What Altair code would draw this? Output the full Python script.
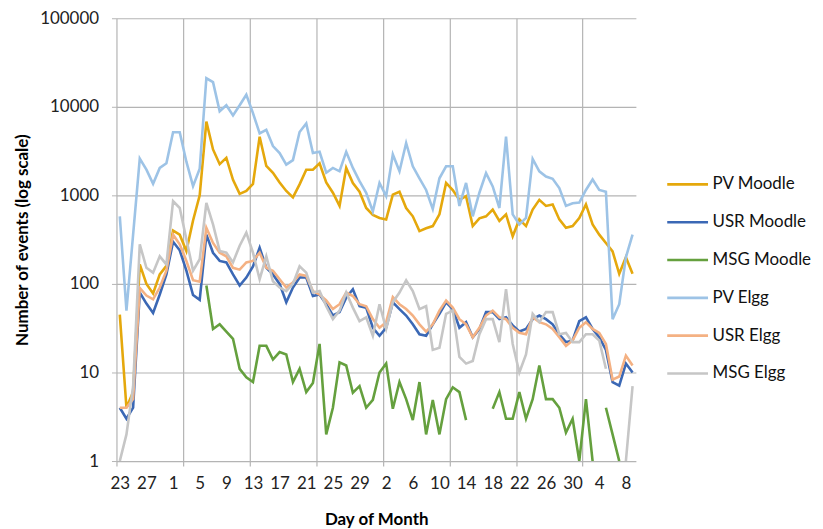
import altair as alt
import pandas as pd

# Category labels (day of month), one per data point
days = (list(range(23, 31)) + list(range(1, 32)) + list(range(1, 31)) + list(range(1, 10)))

series_names = ["PV Moodle", "USR Moodle", "MSG Moodle", "PV Elgg", "USR Elgg", "MSG Elgg"]
series_colors = ["#E5A80C", "#3B68B5", "#65A03E", "#9DC3E6", "#F4B183", "#C6C6C6"]

pv_moodle = [45, 4, 6, 166, 100, 78, 128, 160, 400, 360, 235, 520, 1000, 6800, 3300, 2250,
             2650, 1500, 1040, 1120, 1350, 4600, 2150, 1800, 1400, 1120, 950, 1330, 1950, 1950,
             2300, 1400, 1070, 760, 2040, 1380, 1100, 720, 600, 555, 535, 1020, 1100, 720, 580,
             395, 425, 450, 610, 1380, 1150, 890, 980, 450, 550, 580, 690, 515, 610, 345, 535,
             450, 690, 890, 760, 790, 535, 430, 450, 555, 790, 470, 360, 290, 233, 130, 200, 130]

usr_moodle = [4, 3, 4, 80, 60, 47, 76, 128, 300, 240, 141, 75, 66, 360, 225, 182, 175, 128,
              96, 118, 158, 256, 152, 128, 100, 62, 91, 118, 118, 73, 76, 59, 44, 48, 70, 87,
              56, 54, 32, 26, 32, 62, 52, 44, 35, 27, 26, 35, 46, 62, 52, 32, 37, 25, 31, 48,
              48, 40, 42, 34, 29, 31, 40, 44, 40, 35, 27, 22, 23, 38, 42, 31, 25, 18, 7.8, 7.1,
              12.6, 10]

msg_moodle = [None] * 13 + [96, 31, 35, 29, 24, 11, 8.8, 7.8, 20, 20, 14, 17, 16, 7.8, 11, 6,
              7.6, 21, 2, 4, 13, 12, 5.9, 7, 4, 4.9, 10, 12.6, 3.9, 7.8, 5, 2.9, 7.8, 2, 4.9,
              2, 5, 6.8, 6, 2.9, None, None, None, 3.9, 6, 3, 3, 6, 3, 5, 12, 5, 5, 4, 2.1, 3,
              1, 5, 1, None, 4, 2, 1, None, None]

pv_elgg = [580, 50, 360, 2600, 1950, 1350, 2040, 2300, 5150, 5150, 2400, 1270, 2000, 21000,
           19000, 8900, 10400, 8000, 10400, 13700, 8500, 5000, 5500, 3600, 3000, 2220, 2500,
           5200, 6500, 3000, 3100, 1800, 2040, 1870, 3100, 2040, 1450, 1070, 660, 1380, 980,
           2900, 1870, 3900, 2130, 1560, 1150, 700, 1560, 2130, 2130, 760, 1380, 580, 1070,
           1780, 1260, 720, 4600, 610, 470, 555, 2580, 1870, 1630, 1540, 1210, 760, 815, 830,
           1150, 1510, 1150, 1100, 40, 59, 200, 360]

usr_elgg = [4, 4, 5, 90, 74, 67, 91, 141, 360, 280, 182, 110, 106, 430, 290, 225, 205, 152,
            145, 175, 182, 225, 152, 141, 113, 91, 104, 128, 123, 83, 76, 65, 52, 59, 80, 73,
            59, 56, 40, 32, 37, 71, 59, 52, 44, 35, 29, 35, 50, 65, 54, 40, 35, 25, 32, 44, 50,
            42, 40, 32, 28, 27, 42, 37, 35, 31, 25, 20, 23, 32, 37, 31, 28, 21, 8.3, 9, 15.5, 12]

msg_elgg = [1, 2, 7, 280, 152, 134, 205, 166, 860, 720, 320, 141, 190, 820, 470, 236, 225,
            175, 270, 380, 225, 113, 205, 107, 91, 83, 100, 158, 134, 80, 83, 56, 40, 50, 80,
            54, 38, 42, 26, 59, 31, 62, 80, 110, 83, 52, 56, 18, 19, 46, 50, 15, 12.6, 13.5, 27,
            40, 40, 22, 87, 21, 10, 16, 46, 37, 48, 48, 27, 28, 22, 22, 27, 27, 23, 11, None,
            None, 1, 7]

y_ticks = [1, 10, 100, 1000, 10000, 100000]

all_series = [pv_moodle, usr_moodle, msg_moodle, pv_elgg, usr_elgg, msg_elgg]
rows = []
for name, vals in zip(series_names, all_series):
    for i, v in enumerate(vals):
        rows.append({"pos": i + 0.5, "series": name, "value": v})
df = pd.DataFrame(rows)

n = len(days)
grid_vals = list(range(0, n, 10))
label_vals = [i + 0.5 for i in range(0, n, 4)]
x_vals = sorted(grid_vals + label_vals)
days_js = "[" + ",".join("'%d'" % d for d in days) + "]"

FONT = "Lato"
GRID = "#B4B4B4"

is_grid = "datum.value % 1 === 0"

x_axis = alt.Axis(
    values=x_vals,
    labelExpr="(datum.value % 1 === 0) ? '' : " + days_js + "[floor(datum.value)]",
    grid=True,
    gridColor=GRID,
    gridWidth=1.2,
    gridOpacity={"condition": {"test": is_grid, "value": 1}, "value": 0},
    ticks=True,
    tickColor=GRID,
    tickSize=5,
    tickWidth=1.2,
    tickOpacity={"condition": {"test": is_grid, "value": 1}, "value": 0},
    domain=False,
    labelFont=FONT,
    labelFontSize=17,
    labelColor="#222222",
    labelPadding=10,
    labelOverlap=False,
    labelFlush=False,
    title="Day of Month",
    titleFont=FONT,
    titleFontSize=17,
    titleFontWeight="bold",
    titleColor="#000000",
    titlePadding=20,
)

y_axis = alt.Axis(
    values=y_ticks,
    format="d",
    grid=True,
    gridColor=GRID,
    gridWidth=1.2,
    ticks=True,
    tickColor=GRID,
    tickSize=5,
    domain=False,
    labelFont=FONT,
    labelFontSize=17,
    labelColor="#222222",
    labelPadding=13,
    title="Number of events (log scale)",
    titleFont=FONT,
    titleFontSize=17,
    titleFontWeight="bold",
    titleColor="#000000",
    titlePadding=8,
)

chart = alt.Chart(df).mark_line(
    strokeWidth=2.6, clip=True, invalid="break-paths-show-domains"
).encode(
    x=alt.X("pos:Q", scale=alt.Scale(domain=[0, n], nice=False, zero=False), axis=x_axis),
    y=alt.Y("value:Q", scale=alt.Scale(type="log", domain=[1, 100000], nice=False), axis=y_axis),
    color=alt.Color(
        "series:N",
        scale=alt.Scale(domain=series_names, range=series_colors),
        sort=series_names,
        legend=alt.Legend(
            title=None,
            orient="none",
            legendX=552,
            legendY=145,
            symbolType="stroke",
            symbolSize=1681,
            symbolStrokeWidth=2.6,
            labelFont=FONT,
            labelFontSize=17,
            labelColor="#111111",
            labelOffset=3,
            rowPadding=8,
            padding=0,
        ),
    ),
).properties(
    width=522,
    height=445,
    autosize=alt.AutoSizeParams(type="none"),
    padding={"left": 109, "top": 9, "right": 180, "bottom": 66},
).configure_view(stroke=None)

chart.save("out.html", embed_options={"renderer": "svg", "actions": False})
